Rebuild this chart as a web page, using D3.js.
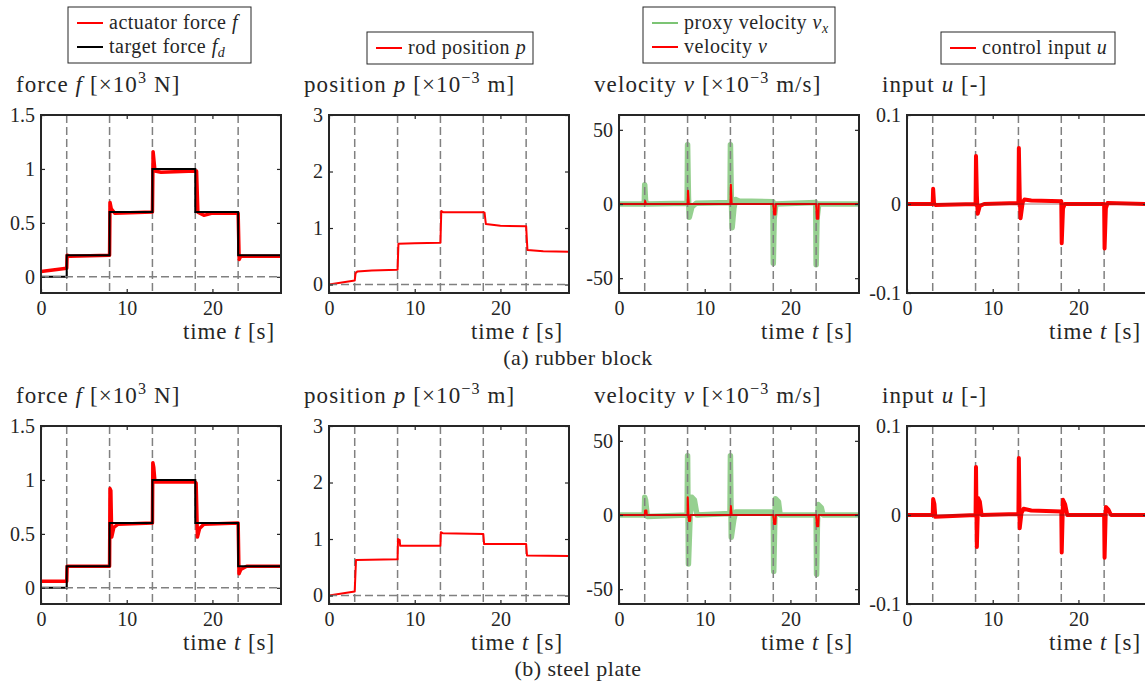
<!DOCTYPE html>
<html>
<head>
<meta charset="utf-8">
<script src="https://cdn.jsdelivr.net/npm/d3@7"></script>
<style>
  body { margin: 0; background: #fff; }
  text { font-family: "Liberation Serif", "Times New Roman", serif; fill: #262626; }
</style>
</head>
<body>
<div id="chart"></div>
<script>
// figure size
var W = 1145, H = 689;

// ---- data ----
var timeTicks = [0, 10, 20];
var stepTimes = [3, 8, 13, 18, 23];

// target force (same for both runs), [t, f]
var targetForce = [[0,0],[3,0],[3,0.2],[8,0.2],[8,0.6],[13,0.6],[13,1],[18,1],[18,0.6],[23,0.6],[23,0.2],[28,0.2]];

// (a) rubber block
var rubberForce = [[0,0.05],[3,0.08],[3.05,0.2],[3.4,0.19],[8,0.2],[8.05,0.69],[8.2,0.63],[8.6,0.59],[13,0.6],[13.08,1.16],[13.3,0.98],[14,0.97],[18,0.98],[18.15,0.98],[18.3,0.6],[19,0.57],[20,0.59],[23,0.59],[23.12,0.16],[23.3,0.19],[28,0.19]];
var rubberPosition = [[0,0],[3,0.07],[3.1,0.2],[3.3,0.23],[5,0.25],[8,0.26],[8.1,0.72],[10,0.73],[13,0.74],[13.1,1.3],[13.3,1.28],[18,1.28],[18.15,1.27],[18.3,1.07],[20,1.04],[23,1.03],[23.15,0.61],[25,0.59],[28,0.58]];
var rubberProxyVel = [[0,0],[2.95,0],[3,13],[3.1,2],[3.3,0],[7.95,0.5],[8,40],[8.1,5],[8.2,-9],[8.5,-2],[9,0.5],[12.95,1],[13,40],[13.1,5],[13.2,-16],[13.4,-3],[13.6,3],[14,2],[17.95,1.5],[18,-40],[18.1,-10],[18.3,0],[22.95,1],[23,-41],[23.1,-10],[23.3,0],[28,0]];
var rubberVel = [[0,0],[3,0],[3.05,2],[3.15,0],[8,0],[8.05,9],[8.15,0],[13,0],[13.05,13],[13.15,0],[18,0],[18.1,-7],[18.25,-7],[18.3,0],[23,0],[23.1,-10],[23.25,-10],[23.3,0],[28,0]];
var rubberInput = [[0,0],[3,0],[3.05,0.017],[3.15,0.001],[3.3,-0.001],[8,0],[8.05,0.054],[8.15,0.01],[8.25,-0.011],[8.5,-0.002],[9,0],[13,0.001],[13.05,0.063],[13.15,0.01],[13.25,-0.016],[13.5,0.002],[13.7,0.005],[14.5,0.004],[18,0.003],[18.05,-0.044],[18.2,-0.005],[18.4,0],[23,0],[23.05,-0.05],[23.2,-0.005],[23.4,0.001],[28,0]];

// (b) steel plate
var steelForce = [[0,0.06],[3,0.06],[3.05,0.2],[8,0.2],[8.05,0.92],[8.15,0.9],[8.25,0.47],[8.5,0.56],[9,0.59],[13,0.6],[13.05,1.16],[13.15,1.12],[13.3,0.98],[18,0.98],[18.1,0.97],[18.25,0.47],[18.5,0.55],[19,0.59],[23,0.6],[23.1,0.13],[23.3,0.17],[24,0.2],[28,0.2]];
var steelPosition = [[0,0],[3,0.07],[3.15,0.63],[8,0.64],[8.05,1.0],[8.25,0.98],[8.3,0.88],[13,0.88],[13.05,1.12],[13.3,1.1],[18,1.09],[18.1,0.91],[23,0.91],[23.1,0.71],[28,0.7]];
var steelProxyVel = [[0,0],[2.95,0],[3,12],[3.1,10],[3.3,-1],[7.95,0],[8,40],[8.1,-33],[8.3,0],[8.5,12],[8.8,10],[9.1,0],[12.95,1],[13,40],[13.1,-15],[13.4,-3],[13.6,2],[18,2],[18.05,-38],[18.15,-10],[18.25,11],[18.6,9],[18.8,0],[23,0],[23.05,-40],[23.15,-5],[23.25,7],[23.6,5],[23.8,0],[28,0]];
var steelVel = [[0,0],[3,0],[3.05,3],[3.2,3],[3.25,0],[8,0],[8.02,12],[8.1,0],[8.15,-4],[8.3,-4],[8.35,0],[13,0],[13.05,6],[13.15,0],[18,0],[18.1,-6],[18.25,-6],[18.3,0],[23,0],[23.1,-7.5],[23.25,-7.5],[23.3,0],[28,0]];
var steelInput = [[0,0],[3,0],[3.05,0.018],[3.2,0.012],[3.3,-0.002],[8,0],[8.05,0.054],[8.15,-0.036],[8.3,0.019],[8.5,0.015],[8.7,0],[13,0.001],[13.05,0.064],[13.15,-0.015],[13.35,0.002],[13.6,0.007],[14.5,0.005],[18,0.004],[18.05,-0.042],[18.2,0.017],[18.45,0.012],[18.7,0],[23,0],[23.05,-0.048],[23.2,0.009],[23.5,0.006],[23.8,0],[28,0]];

// axes settings
var forceTicks = [0, 0.5, 1, 1.5];
var positionTicks = [0, 1, 2, 3];
var velocityTicks = [-50, 0, 50];
var inputTicks = [-0.1, 0, 0.1];
var captions = ["(a) rubber block", "(b) steel plate"];

// ---- layout ----
var colX = [41, 329, 619, 907];
var rowY = [115, 426];
var pw = 240, ph = 178;

var red = "#ff0000", green = "#7cc474", gray = "#808080", ink = "#262626";

var svg = d3.select("#chart").append("svg")
    .attr("width", W)
    .attr("height", H);

// text with italic / sub / superscript parts
function rich(g, x, y, parts, size, anchor) {
  var t = g.append("text")
      .attr("x", x).attr("y", y)
      .attr("text-anchor", anchor || "start")
      .style("font-size", size + "px");
  var shift = 0;
  parts.forEach(function(p) {
    var s = t.append("tspan").text(p[0]);
    var dy = 0;
    if (p[1] == "i") s.style("font-style", "italic");
    if (p[1] == "sup") { s.style("font-size", (size * 0.7) + "px"); dy = -size * 0.38; }
    if (p[1] == "sub") { s.style("font-size", (size * 0.7) + "px").style("font-style", "italic"); dy = size * 0.22; }
    s.attr("dy", dy - shift);
    shift = dy;
  });
  return t;
}

var panels = [
  { domain: [-0.15, 1.5], ticks: forceTicks,
    title: [["force "], ["f", "i"], [" [\u00d710"], ["3", "sup"], [" N]"]] },
  { domain: [-0.15, 3], ticks: positionTicks,
    title: [["position "], ["p", "i"], [" [\u00d710"], ["\u22123", "sup"], [" m]"]] },
  { domain: [-60, 60], ticks: velocityTicks,
    title: [["velocity "], ["v", "i"], [" [\u00d710"], ["\u22123", "sup"], [" m/s]"]] },
  { domain: [-0.1, 0.1], ticks: inputTicks,
    title: [["input "], ["u", "i"], [" [-]"]] }
];

var runs = [
  { force: rubberForce, position: rubberPosition, proxy: rubberProxyVel, vel: rubberVel, input: rubberInput },
  { force: steelForce, position: steelPosition, proxy: steelProxyVel, vel: steelVel, input: steelInput }
];

runs.forEach(function(run, r) {
  panels.forEach(function(p, c) {
    var g = svg.append("g")
        .attr("transform", "translate(" + colX[c] + "," + rowY[r] + ")");

    var x = d3.scaleLinear().domain([0, 28]).range([0, pw]);
    var y = d3.scaleLinear().domain(p.domain).range([ph, 0]);
    var line = d3.line().x(function(d) { return x(d[0]); }).y(function(d) { return y(d[1]); });

    var clipId = "clip" + r + c;
    g.append("clipPath").attr("id", clipId)
      .append("rect").attr("width", pw).attr("height", ph);
    var plot = g.append("g").attr("clip-path", "url(#" + clipId + ")");

    // proxy velocity, drawn under everything
    if (c == 2) {
      plot.append("path").datum(run.proxy)
          .attr("d", line).attr("fill", "none")
          .attr("stroke", green).attr("stroke-width", 5.5)
          .attr("stroke-linejoin", "round").attr("opacity", 0.8);
    }

    // step markers
    plot.selectAll(".step").data(stepTimes).enter().append("line")
        .attr("x1", function(d) { return x(d); }).attr("x2", function(d) { return x(d); })
        .attr("y1", 0).attr("y2", ph)
        .attr("stroke", gray).attr("stroke-width", 1.5)
        .attr("stroke-dasharray", "8,4");

    var main = [run.force, run.position, run.vel, run.input][c];
    var width = [3.5, 2, 2, 4][c];
    plot.append("path").datum(main)
        .attr("d", line).attr("fill", "none")
        .attr("stroke", red).attr("stroke-width", width)
        .attr("stroke-linejoin", "round");

    if (c == 0) {
      plot.append("path").datum(targetForce)
          .attr("d", line).attr("fill", "none")
          .attr("stroke", "#000").attr("stroke-width", 2);
    }

    plot.append("line")
        .attr("x1", 0).attr("x2", pw)
        .attr("y1", y(0)).attr("y2", y(0))
        .attr("stroke", c >= 2 ? "#6a2020" : gray).attr("stroke-width", c >= 2 ? 1 : 1.5)
        .attr("stroke-dasharray", c >= 2 ? null : "8,4")
        .attr("opacity", c >= 2 ? 0.6 : 1);

    // axes: inward ticks on all four sides
    g.append("g").attr("transform", "translate(0," + ph + ")")
        .call(d3.axisBottom(x).tickValues(timeTicks).tickSize(-4).tickPadding(8));
    g.append("g")
        .call(d3.axisLeft(y).tickValues(p.ticks).tickSize(-4).tickPadding(6)
          .tickFormat(function(d) { return String(d); }));
    g.append("g").call(d3.axisTop(x).tickValues(timeTicks).tickSize(-4).tickFormat(""));
    g.append("g").attr("transform", "translate(" + pw + ",0)")
        .call(d3.axisRight(y).tickValues(p.ticks).tickSize(-4).tickFormat(""));

    g.selectAll(".domain").remove();
    g.selectAll(".tick line").attr("stroke", ink).attr("stroke-width", 1.2);
    g.selectAll(".tick text")
        .style("font-family", "'Liberation Serif', serif")
        .style("font-size", "20px")
        .attr("fill", ink);

    g.append("rect")
        .attr("width", pw).attr("height", ph)
        .attr("fill", "none").attr("stroke", ink).attr("stroke-width", 2);

    // titles
    rich(g, -25, -23, p.title, 23).style("letter-spacing", "1.1px");
    rich(g, pw - 6, ph + 46, [["time "], ["t", "i"], [" [s]"]], 23, "end").style("letter-spacing", "0.9px");
  });

  svg.append("text")
      .attr("x", 578).attr("y", rowY[r] + ph + 72)
      .attr("text-anchor", "middle")
      .style("font-size", "22px")
      .style("letter-spacing", "0.5px")
      .attr("fill", "#000")
      .text(captions[r]);
});

// ---- legends (top row only) ----
var legends = [
  { x: 68, y: 7, w: 183, items: [["actuator force ", "f", "", red], ["target force ", "f", "d", "#000"]] },
  { x: 367, y: 32, w: 166, items: [["rod position ", "p", "", red]] },
  { x: 643, y: 7, w: 192, items: [["proxy velocity ", "v", "x", green], ["velocity ", "v", "", red]] },
  { x: 941, y: 32, w: 174, items: [["control input ", "u", "", red]] }
];

legends.forEach(function(L) {
  var g = svg.append("g").attr("transform", "translate(" + L.x + "," + L.y + ")");
  var h = 8 + L.items.length * 24;
  g.append("rect")
      .attr("width", L.w).attr("height", h)
      .attr("fill", "#fff").attr("stroke", ink).attr("stroke-width", 1);
  L.items.forEach(function(it, i) {
    var cy = 16 + i * 24;
    g.append("line")
        .attr("x1", 9).attr("x2", 35)
        .attr("y1", cy).attr("y2", cy)
        .attr("stroke", it[3]).attr("stroke-width", 2);
    var parts = [[it[0]], [it[1], "i"]];
    if (it[2]) parts.push([it[2], "sub"]);
    rich(g, 41, cy + 6, parts, 20).style("letter-spacing", "0.5px");
  });
});
</script>
</body>
</html>
